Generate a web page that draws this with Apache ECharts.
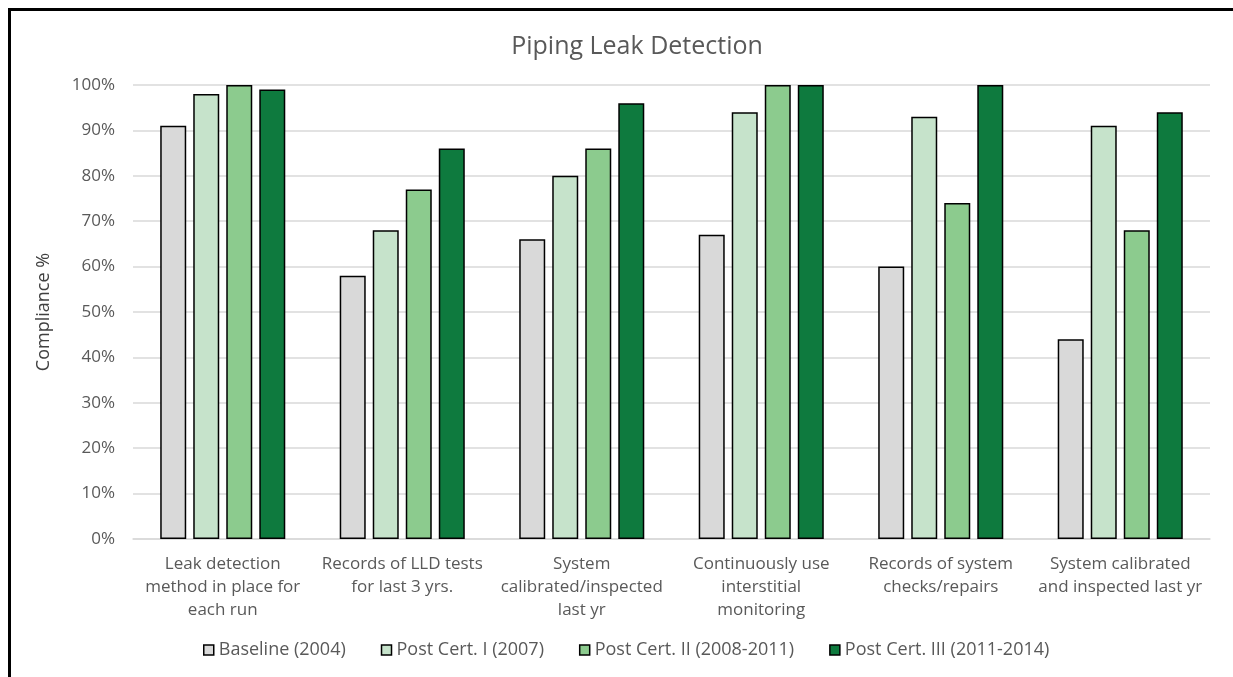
<!DOCTYPE html>
<html>
<head>
<meta charset="utf-8">
<script src="https://cdn.jsdelivr.net/npm/echarts@6/dist/echarts.min.js"></script>
<style>
html,body{margin:0;padding:0;background:#fff;}
#chart{width:1233px;height:677px;}
</style>
</head>
<body>
<div id="chart"></div>
<script>
const categories = [
  "Leak detection\nmethod in place for\neach run",
  "Records of LLD tests\nfor last 3 yrs.",
  "System\ncalibrated/inspected\nlast yr",
  "Continuously use\ninterstitial\nmonitoring",
  "Records of system\nchecks/repairs",
  "System calibrated\nand inspected last yr"
];
const seriesNames = ["Baseline (2004)", "Post Cert. I (2007)", "Post Cert. II (2008-2011)", "Post Cert. III (2011-2014)"];
const baseline = [91, 58, 66, 67, 60, 44];
const postCert1 = [98, 68, 80, 94, 93, 91];
const postCert2 = [100, 77, 86, 100, 74, 68];
const postCert3 = [99, 86, 96, 100, 100, 94];
const colors = ["#D9D9D9", "#C6E3CB", "#8CCB8E", "#0E7A3E"];
const yTicks = [0, 10, 20, 30, 40, 50, 60, 70, 80, 90, 100];

const allData = [baseline, postCert1, postCert2, postCert3];
const font = "'Open Sans', sans-serif";

const chart = echarts.init(document.getElementById('chart'), null, {renderer: 'canvas'});
chart.setOption({
  animation: false,
  backgroundColor: '#fff',
  textStyle: {fontFamily: font},
  title: {
    text: 'Piping Leak Detection',
    left: 632, top: 29, textAlign: 'center',
    textStyle: {fontFamily: font, fontSize: 25, fontWeight: 'normal', color: '#595959'}
  },
  graphic: [{
    type: 'rect', left: 7, top: 7, silent: true,
    shape: {width: 1250, height: 700},
    style: {fill: 'none', stroke: '#000', lineWidth: 3}
  }],
  grid: {left: 133, right: 23, top: 85, bottom: 138},
  legend: {
    bottom: 13, left: 198,
    itemWidth: 10, itemHeight: 10, itemGap: 35,
    icon: 'rect',
    textStyle: {fontFamily: font, fontSize: 18, color: '#595959', padding: [0, 0, 0, 0]},
    data: seriesNames.map((n, i) => ({name: n, itemStyle: {color: colors[i], borderColor: '#000', borderWidth: 1.5}}))
  },
  xAxis: {
    type: 'category', data: categories,
    axisLine: {lineStyle: {color: '#D9D9D9', width: 1.5}},
    axisTick: {show: false},
    axisLabel: {fontFamily: font, fontSize: 17, color: '#595959', lineHeight: 23, margin: 14, interval: 0}
  },
  yAxis: {
    type: 'value', min: yTicks[0], max: yTicks[yTicks.length - 1], interval: 10,
    name: 'Compliance %', nameLocation: 'middle', nameGap: 80, nameRotate: 90,
    nameTextStyle: {fontFamily: font, fontSize: 18, color: '#404040'},
    axisLine: {show: false}, axisTick: {show: false},
    axisLabel: {fontFamily: font, fontSize: 17, color: '#595959', margin: 18, formatter: v => v + '%'},
    splitLine: {lineStyle: {color: '#D9D9D9', width: 1.5}}
  },
  series: seriesNames.map((n, i) => ({
    name: n, type: 'bar', data: allData[i],
    barWidth: 26, barGap: '27%',
    itemStyle: {color: colors[i], borderColor: '#000', borderWidth: 1.5}
  }))
});
</script>
</body>
</html>
